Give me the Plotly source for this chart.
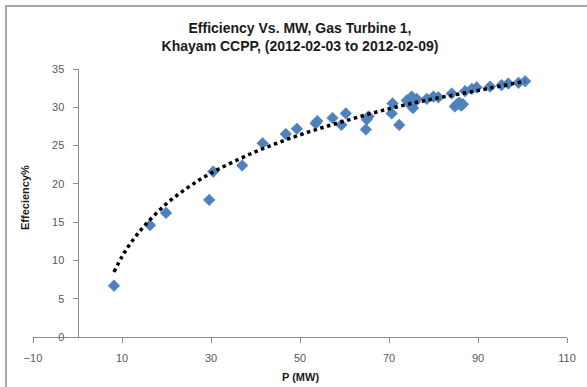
import plotly.graph_objects as go

# Data
power_mw = [8.2, 16.3, 19.9, 29.6, 30.5, 37.0, 41.6, 46.8, 49.3, 53.5, 53.9, 57.3,
            59.3, 60.3, 64.8, 65.0, 65.4, 70.6, 70.8, 72.3, 74.0, 74.5, 75.1, 75.4,
            75.8, 76.2, 78.5, 80.0, 81.1, 84.1, 84.8, 85.3, 85.8, 86.2, 86.6, 87.1,
            88.6, 89.7, 92.7, 95.3, 96.8, 99.1, 100.6]
efficiency = [6.7, 14.6, 16.2, 17.9, 21.6, 22.4, 25.3, 26.5, 27.2, 27.9, 28.2, 28.6,
              27.7, 29.2, 27.1, 28.4, 28.8, 29.2, 30.5, 27.7, 30.9, 30.5, 31.4, 29.9,
              30.7, 31.1, 31.1, 31.4, 31.3, 31.8, 30.1, 30.4, 30.6, 30.2, 30.4, 32.1,
              32.4, 32.6, 32.7, 32.9, 33.1, 33.2, 33.4]
# Logarithmic trendline
trend_x = [8.2, 10, 12, 15, 20, 25, 30, 40, 50, 60, 70, 80, 90, 100.6]
trend_y = [8.5, 10.5, 12.3, 14.5, 17.4, 19.6, 21.4, 24.2, 26.4, 28.2, 29.8, 31.1, 32.2, 33.4]
x_ticks = [-10, 10, 30, 50, 70, 90, 110]
y_ticks = [0, 5, 10, 15, 20, 25, 30, 35]

title_text = "Efficiency Vs. MW, Gas Turbine 1,<br>Khayam CCPP, (2012-02-03 to 2012-02-09)"
x_title = "P (MW)"
y_title = "Effeciency%"

FONT = "Liberation Sans"
GRAY = "#595959"
AXC = "#8c8c8c"
W, H = 587, 387

fig = go.Figure()
fig.add_trace(go.Scatter(
    x=power_mw, y=efficiency, mode="markers",
    marker=dict(symbol="diamond", size=9, color="#4F81BD",
                line=dict(width=0.5, color="#4F81BD")),
    showlegend=False, hoverinfo="x+y"))
fig.add_trace(go.Scatter(
    x=trend_x, y=trend_y, mode="lines", line_shape="spline",
    line=dict(color="black", width=3.5, dash="dot"),
    showlegend=False, hoverinfo="skip"))

x0, x1 = -10, 110
fig.update_layout(
    width=W, height=H,
    margin=dict(l=33, r=20, t=69, b=50),
    paper_bgcolor="white", plot_bgcolor="white",
    font=dict(family=FONT, size=11, color=GRAY),
    title=dict(text="<b>" + title_text.replace("<br>", "</b><br><b>") + "</b>",
               x=0.5, xref="paper", xanchor="center",
               y=1 - 33 / H, yref="container", yanchor="top",
               font=dict(family=FONT, size=14, color="#1a1a1a")),
    xaxis=dict(range=[x0, x1], tickmode="array", tickvals=x_ticks,
               showgrid=False, zeroline=False, showline=True,
               linecolor=AXC, linewidth=1, ticks="outside", ticklen=5,
               tickcolor=AXC, ticklabelstandoff=6,
               tickfont=dict(family=FONT, size=11, color=GRAY),
               fixedrange=True),
    yaxis=dict(range=[0, 35], tickmode="array", tickvals=y_ticks,
               anchor="free", position=(0 - x0) / (x1 - x0),
               showgrid=False, zeroline=False, showline=True,
               linecolor=AXC, linewidth=1, ticks="outside", ticklen=5,
               tickcolor=AXC, ticklabelstandoff=6,
               tickfont=dict(family=FONT, size=11, color=GRAY),
               fixedrange=True),
    annotations=[
        dict(text="<b>" + x_title + "</b>", x=0.5, xref="paper", xanchor="center",
             y=-40 / 268, yref="paper", yanchor="middle", showarrow=False,
             font=dict(family=FONT, size=11, color="#1a1a1a")),
        dict(text="<b>" + y_title + "</b>", x=(25 - 33) / 534, xref="paper",
             xanchor="center", y=(337 - 198) / 268, yref="paper", yanchor="middle",
             textangle=-90, showarrow=False,
             font=dict(family=FONT, size=11, color="#1a1a1a")),
    ],
    shapes=[
        dict(type="rect", xref="paper", yref="paper",
             x0=(6 - 33) / 534, x1=1.2, y0=-0.5, y1=(337 - 6) / 268,
             line=dict(color="#a6a6a6", width=2), layer="below"),
    ],
)

fig.write_html("out.html",
               config={"displayModeBar": False},
               post_script="document.body.style.margin='0';document.body.style.overflow='hidden';")
